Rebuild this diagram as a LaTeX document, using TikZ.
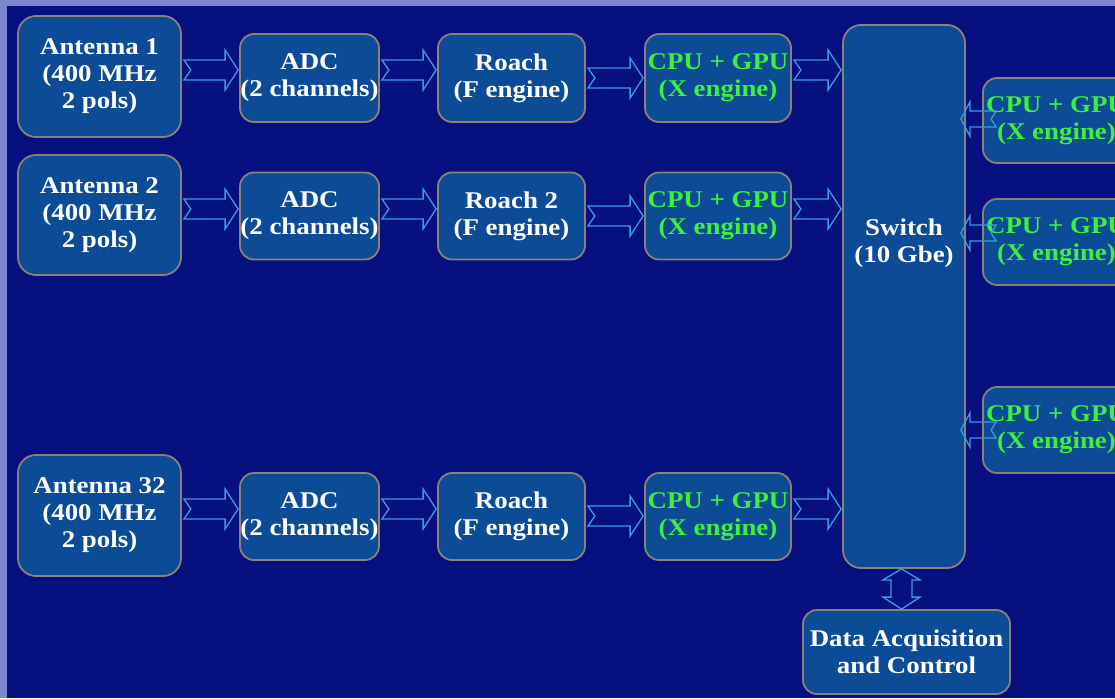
\documentclass[tikz,border=0pt]{standalone}
\usepackage{fontspec}
\newfontfamily\dfont{Liberation Serif}[FakeStretch=1.12]
\usetikzlibrary{calc}
\definecolor{navy}{HTML}{06107E}
\definecolor{boxfill}{HTML}{0C4B95}
\definecolor{boxedge}{HTML}{8C8078}
\definecolor{arrowc}{HTML}{3C9BE0}
\definecolor{frame}{HTML}{7D86CC}
\definecolor{gtext}{HTML}{3CF03C}
\tikzset{
  dtext/.style={text=white, align=center, inner sep=0pt,
    font=\dfont\bfseries\fontsize{24}{27}\selectfont},
  blk/.style={dtext, draw=boxedge, line width=1.8pt, fill=boxfill, rounded corners=14pt},
  gtxt/.style={text=gtext},
  blockarr/.style={draw=arrowc, line width=1.3pt, line join=miter},
}
% horizontal notched block arrow, right-pointing: #1 from node, #2 to node, #3 y
\newcommand\harrow[3]{%
  \draw[blockarr]
    ($(#1.east |- 0,#3)+(2,-10)$) --
    ($(#2.west |- 0,#3)+(-14,-10)$) --
    ($(#2.west |- 0,#3)+(-14,-20)$) --
    ($(#2.west |- 0,#3)+(-1,0)$) --
    ($(#2.west |- 0,#3)+(-14,20)$) --
    ($(#2.west |- 0,#3)+(-14,10)$) --
    ($(#1.east |- 0,#3)+(2,10)$) --
    ($(#1.east |- 0,#3)+(9,0)$) -- cycle;}
% left-pointing small notched arrow: #1 from node (right), #2 to node (left), #3 y
\newcommand\larrow[3]{%
  \draw[blockarr]
    ($(#1.west |- 0,#3)+(14,-8)$) --
    ($(#2.east |- 0,#3)+(4,-8)$) --
    ($(#2.east |- 0,#3)+(4,-17)$) --
    ($(#2.east |- 0,#3)+(-5,0)$) --
    ($(#2.east |- 0,#3)+(4,17)$) --
    ($(#2.east |- 0,#3)+(4,8)$) --
    ($(#1.west |- 0,#3)+(14,8)$) --
    ($(#1.west |- 0,#3)+(9,0)$) -- cycle;}
\begin{document}
\begin{tikzpicture}[x=1pt,y=-1pt]
\useasboundingbox (0,0) rectangle (1115,698);
\fill[frame] (0,0) rectangle (1115,698);
\fill[navy] (7,6) rectangle (1115,698);
\begin{scope}
\clip (0,0) rectangle (1115,698);
% left column
\node[blk, minimum width=163pt, minimum height=121pt, rounded corners=18pt] (ant1) at (99.5,76.5) {Antenna 1\\(400 MHz\\2 pols)};
\node[blk, minimum width=163pt, minimum height=120pt, rounded corners=18pt] (ant2) at (99.5,215) {Antenna 2\\(400 MHz\\2 pols)};
\node[blk, minimum width=163pt, minimum height=121pt, rounded corners=18pt] (ant32) at (99.5,515.5) {Antenna 32\\(400 MHz\\2 pols)};
% ADCs
\node[blk, minimum width=139pt, minimum height=88pt] (adc1) at (309.5,78) {ADC\\(2 channels)};
\node[blk, minimum width=139pt, minimum height=87pt] (adc2) at (309.5,216) {ADC\\(2 channels)};
\node[blk, minimum width=139pt, minimum height=87pt] (adc32) at (309.5,516.5) {ADC\\(2 channels)};
% Roach
\node[blk, minimum width=147pt, minimum height=88pt] (roach1) at (511.5,78) {Roach\\(F engine)};
\node[blk, minimum width=147pt, minimum height=87pt] (roach2) at (511.5,216) {Roach 2\\(F engine)};
\node[blk, minimum width=147pt, minimum height=87pt] (roach32) at (511.5,516.5) {Roach\\(F engine)};
% CPU + GPU (left)
\node[blk, gtxt, minimum width=146pt, minimum height=88pt] (cpu1) at (718,78) {CPU + GPU\\(X engine)};
\node[blk, gtxt, minimum width=146pt, minimum height=87pt] (cpu2) at (718,216) {CPU + GPU\\(X engine)};
\node[blk, gtxt, minimum width=146pt, minimum height=87pt] (cpu32) at (718,516.5) {CPU + GPU\\(X engine)};
% switch
\node[blk, minimum width=122pt, minimum height=543pt, rounded corners=18pt] (switch) at (904,296.5) {};
\node[dtext] (switchlbl) at (904,243) {Switch\\(10 Gbe)};
% right CPUs (cut off by the picture's right edge, as in the original)
\node[blk, gtxt, minimum width=147pt, minimum height=85pt] (rcpu1) at (1056.5,120.5) {CPU + GPU\\(X engine)};
\node[blk, gtxt, minimum width=147pt, minimum height=86pt] (rcpu2) at (1056.5,242) {CPU + GPU\\(X engine)};
\node[blk, gtxt, minimum width=147pt, minimum height=86pt] (rcpu3) at (1056.5,430) {CPU + GPU\\(X engine)};
% data acquisition
\node[blk, minimum width=207pt, minimum height=84pt] (daq) at (906.5,652) {Data Acquisition\\and Control};
% arrows row 1
\harrow{ant1}{adc1}{70}
\harrow{adc1}{roach1}{70}
\harrow{roach1}{cpu1}{78}
\harrow{cpu1}{switch}{70}
% row 2
\harrow{ant2}{adc2}{209}
\harrow{adc2}{roach2}{209}
\harrow{roach2}{cpu2}{216}
\harrow{cpu2}{switch}{209}
% row 3
\harrow{ant32}{adc32}{509}
\harrow{adc32}{roach32}{509}
\harrow{roach32}{cpu32}{516}
\harrow{cpu32}{switch}{509}
% right side
\larrow{rcpu1}{switch}{119}
\larrow{rcpu2}{switch}{233}
\larrow{rcpu3}{switch}{430}
% double vertical arrow between switch and data acquisition
\draw[blockarr]
  ($(switch.south)+(-2.5,0)$) --
  ($(switch.south)+(-21,11)$) --
  ($(switch.south)+(-13,11)$) --
  ($(daq.north)+(-15.5,-12)$) --
  ($(daq.north)+(-23.5,-12)$) --
  ($(daq.north)+(-5,0)$) --
  ($(daq.north)+(13.5,-12)$) --
  ($(daq.north)+(5.5,-12)$) --
  ($(switch.south)+(8,11)$) --
  ($(switch.south)+(16,11)$) -- cycle;
\end{scope}
\end{tikzpicture}
\end{document}
